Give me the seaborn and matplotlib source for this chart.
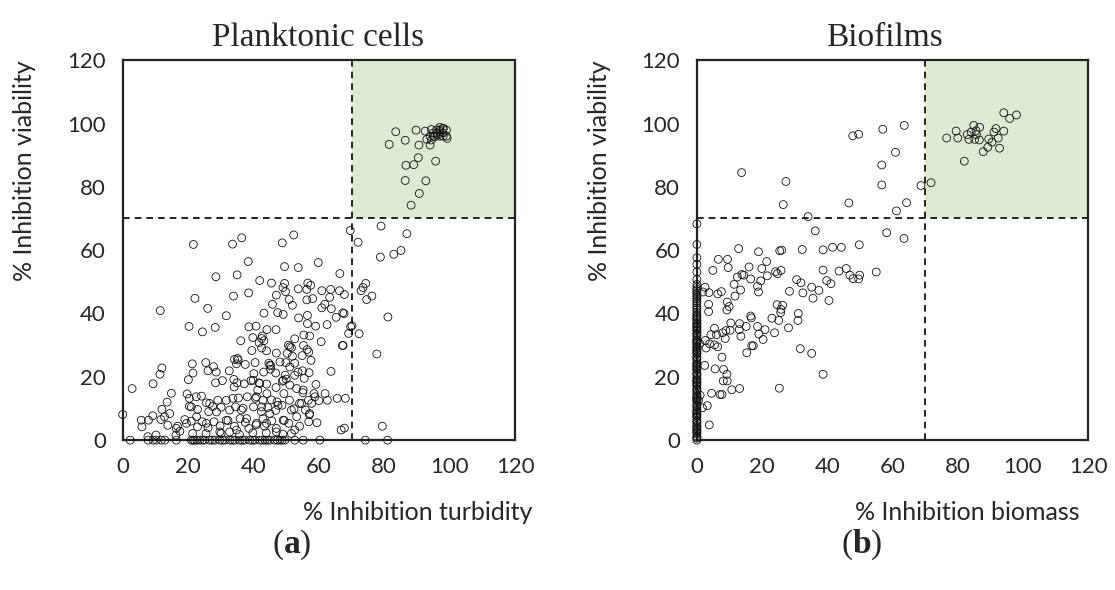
import matplotlib
matplotlib.use("Agg")
import matplotlib.pyplot as plt
import seaborn as sns
import pandas as pd

# ---- data ----
threshold = 70
ticks = [0, 20, 40, 60, 80, 100, 120]

# (a) planktonic cells: (% inhibition turbidity, % inhibition viability)
plank_green = [(83.5, 97.4), (89.7, 97.9), (92.5, 97.6), (94.4, 98.1), (97, 98.8), (98, 98.4),
               (99, 97.9), (99.2, 95.3), (96.4, 96.4), (95.4, 95.8), (94, 93.2), (94.4, 94.8),
               (81.5, 93.4), (86.4, 94.7), (90.6, 93.2), (90.4, 89.2), (89, 87), (86.6, 86.8),
               (95.7, 88.1), (86.4, 82), (92.7, 81.9), (90.7, 77.9), (88.2, 74.2),
               (96, 97), (97, 96), (98, 97), (97, 98), (95, 97), (96, 98), (98, 96), (99, 96),
               (94, 96), (93, 95), (97, 97.5), (98, 98.5), (95, 96)]
plank_right = [(79, 67.6), (86.9, 65.2), (85.1, 59.9), (82.9, 58.7), (78.8, 57.8), (69.6, 66.2),
               (72, 62.5), (74.3, 49.5), (73.5, 48.2), (72.9, 47.2), (76.2, 45.5), (74.6, 44.4),
               (81.1, 38.9), (70.1, 36.1), (69.7, 35.8), (72.3, 33.6), (69.1, 33.7), (67.4, 29.9),
               (77.7, 27.2), (79.4, 4.4), (67.8, 3.8), (66.8, 3.2), (68.1, 13.2), (65.6, 13.2),
               (67.8, 46), (67.7, 40), (66.4, 52.6), (66.3, 47.2)]
plank_cloud = [(52.3, 64.8), (48.8, 62.3), (36.4, 63.9), (33.6, 61.9), (21.6, 61.8), (59.8, 56.1),
               (53.7, 54.5), (49.5, 54.8), (38.4, 56.4), (28.5, 51.6), (35, 52.2), (41.9, 50.4),
               (45.5, 49.6), (49.5, 49.5), (49, 48.2), (49.8, 46.9), (53.7, 47.8), (56.6, 49.6),
               (57.5, 48.9), (56.3, 47.6), (60.9, 47.2), (63.6, 47.6), (47, 45.8), (50.9, 44.4),
               (51.9, 42.6), (56.3, 44.3), (58.1, 44.7), (63.3, 45.1), (61.8, 42.9), (60.9, 41.8),
               (63.8, 41.5), (38.5, 46.5), (33.9, 45.5), (22.1, 44.8), (11.5, 40.9), (26, 41.6),
               (31.7, 39.3), (43.2, 40.1), (45.8, 42.9), (47.4, 40.3), (49.1, 39.7), (53.8, 38.6),
               (56.5, 39.4), (65.3, 38.8), (67.3, 40.2), (59, 36), (62.5, 36.5), (56.5, 36.8),
               (20.3, 35.9), (24.4, 34.2), (28.3, 35.6), (38.6, 35.8), (40.8, 36), (44.1, 34.9),
               (46.9, 34.9), (55.4, 33.2), (57.2, 32.9), (52.6, 32), (36.1, 31.4), (39.8, 32.4),
               (42.7, 32.9), (43.2, 31.4), (41.7, 30.8), (60.7, 31.1), (67.2, 29.9), (50.7, 30),
               (51.6, 29.2), (55.3, 29.9), (56.4, 28.6), (56.9, 27.8), (39.5, 28.3), (42.5, 29.1),
               (44, 28.2), (47, 27.5), (50.3, 27.4), (51.9, 26.5), (54.9, 26.7), (57.6, 25.2),
               (63.7, 21.7), (34.2, 25.5), (35.1, 25.8), (34.8, 24.1), (37.5, 23.9), (40.5, 24.5),
               (44.7, 24.3), (45.3, 23.5), (48.1, 24.7), (49.9, 24.5), (52.6, 24.3), (45.2, 22.4),
               (43.1, 21.5), (40.1, 21), (32.6, 21.9), (21.3, 24.1), (25.4, 24.5), (27.8, 23.2),
               (26.1, 21.9), (28.6, 21.5), (21.5, 21.2), (12, 22.8), (11.4, 20.8), (9.3, 17.8),
               (2.9, 16.3), (20.1, 19.1), (28.4, 18.1), (30.5, 18.8), (34, 19.2), (35, 18.1),
               (34.1, 16.8), (46.8, 21.2), (48.8, 18.6), (50, 19.3), (49.7, 20.5), (52.6, 20.5),
               (53.6, 21.5), (55, 21.9), (57, 21.3), (59.1, 17.6), (55.5, 19.5), (44, 17.7),
               (41.7, 18.1), (39.2, 18.8), (37.2, 17.8), (41.3, 15.8), (44.1, 14.7), (46.9, 16.6),
               (49.3, 14.7), (51.1, 17.4), (53.2, 16.3), (55.1, 15), (58.5, 14.7), (61.9, 14.7),
               (62.6, 12.6), (14.9, 14.8), (13.6, 12), (19.7, 14.6), (20.4, 13.2), (22.5, 13.7),
               (24.1, 13.9), (25.6, 11.8), (29.1, 12.6), (31.7, 12.6), (33.7, 13.2), (35.4, 13.3),
               (38.1, 13.7), (40.6, 13.2), (42.9, 12.6), (45.5, 12.7), (47.2, 12.1), (51, 12.6),
               (54.1, 11.6), (56.8, 12.6), (57.8, 11.6), (60, 12.5), (20.4, 10.7), (22.9, 9.7),
               (26.3, 9), (27.5, 10.6), (30.1, 10.4), (32.7, 9.5), (34.5, 10.5), (36.8, 10.1),
               (40, 10.5), (42.4, 9), (44.4, 10.3), (46.8, 9.4), (48.7, 11), (52.4, 9.9),
               (55.9, 9.5), (57.1, 8), (12, 9.7), (14.4, 8.4), (9.2, 7.7), (5.7, 6.3), (0, 8.1),
               (7.9, 6.3), (5.9, 4.2), (11.7, 6.5), (12.8, 7.4), (13.8, 4.7), (16.8, 4.4),
               (17.5, 2.8), (19, 6.5), (21, 6), (22.9, 4.2), (24.3, 5.8), (26.1, 3.9), (27.9, 5.8),
               (29.8, 4.5), (32.2, 6.2), (34.2, 4.4), (35.9, 6.8), (37.5, 5.6), (38.6, 3.7),
               (40.8, 4.8), (42.9, 6.8), (43.4, 4.4), (45.6, 6.1), (47, 3.7), (49.4, 6.2),
               (50.8, 5.3), (52.6, 3.2), (54.1, 4.4), (56.9, 5.8), (59.4, 5.5), (10.2, 1.6),
               (7.7, 1.1), (16.3, 1.6), (21.4, 2.1), (25.5, 2.1), (30.1, 2.1), (32.7, 2.6),
               (35.7, 1.8), (39.8, 2.3), (43.9, 2.3), (49, 1.9), (51.6, 2.1),
               (40.9, 13.7), (42.5, 10.5), (45, 8.4), (47.5, 11), (36.3, 9.5), (37.9, 6.8),
               (31.7, 6.3), (28.7, 8.9), (25.6, 5.3), (22.6, 7.4), (19.5, 5.3), (16.4, 3.7),
               (44, 5.3), (49.1, 6.3), (51.6, 9.5), (54.7, 11.6), (57.2, 8.4), (49.1, 18.9),
               (51.1, 23.1), (45, 23.7), (42.5, 32.1), (51.1, 29.5), (39.9, 18.9), (35.3, 25.3),
               (41.9, 17.9), (40.9, 5.3), (34.8, 3.2), (29.7, 2.6), (47, 2.6), (53.2, 7.4),
               (26.6, 11.6), (21, 10.5), (55.2, 15.8), (58.8, 13.7)]
# points lying on the x axis (viability = 0)
plank_zero_x = [2.3, 7.8, 9.3, 10.3, 11.8, 12.9, 16.4, 21, 22, 23.6, 25.1, 26.6, 28.2, 29.7,
                31.2, 32.8, 34.3, 35.8, 37.3, 38.9, 40.4, 41.9, 43.5, 45, 46.5, 48.1, 49.6,
                52.6, 55.2, 60.3, 74.2, 81, 21.5, 22.7, 24.4, 27.4, 30.5, 33.6, 36.6, 39.7,
                42.7, 44.2, 47.3, 48.8]

# (b) biofilms: (% inhibition biomass, % inhibition viability)
bio_green = [(94.1, 103.4), (95.9, 101.6), (98, 102.7), (84.9, 99.4), (86.7, 98.8), (85.6, 97.7),
             (82.9, 96.5), (84.1, 97.3), (85.7, 96.5), (79.5, 97.6), (76.6, 95.4), (80, 95.4),
             (83.4, 95), (85.2, 95), (86.6, 94.8), (91.7, 98.4), (91.1, 97.3), (94.1, 97.6),
             (89.5, 95.1), (92.4, 95.4), (90.5, 94.1), (89.2, 92.5), (87.8, 91.1), (92.8, 92.2),
             (82, 88.1), (71.8, 81.3)]
bio_cloud = [(63.6, 99.4), (57, 98.2), (47.8, 96.1), (49.6, 96.6), (60.9, 90.9), (56.7, 86.9),
             (13.7, 84.5), (27.3, 81.7), (56.7, 80.6), (68.7, 80.4), (26.5, 74.4), (46.6, 74.9),
             (64.3, 75), (61.2, 72.4), (34.1, 70.6), (36.3, 66.1), (58.2, 65.5), (63.5, 63.7),
             (12.8, 60.5), (18.9, 59.5), (25.4, 59.8), (26, 60), (32.3, 60.2), (38.7, 60.1),
             (41.6, 60.9), (44.3, 60.9), (49.8, 61.7), (6.6, 57.1), (9.4, 57.1), (9.6, 54.5),
             (4.9, 53.6), (21.4, 56.4), (16, 54.7), (19.9, 54.2), (12.4, 51.5), (13.8, 52.3),
             (14.4, 52.1), (16.5, 50.9), (21.6, 51.9), (19.6, 50.3), (24.1, 53.2), (24.7, 52.6),
             (25.8, 53.6), (38.7, 53.7), (43.6, 53.4), (45.8, 54.2), (46.9, 52.1), (47.9, 51),
             (49.6, 50.9), (49.9, 52.1), (55, 53.1), (30.6, 50.7), (31.9, 49.7), (39.8, 50.4),
             (41.1, 49.4), (11.4, 49.2), (13.4, 47.4), (18.6, 48.6), (18.9, 46.8), (28.4, 47),
             (32.5, 46.5), (35.2, 48.3), (37.4, 47.3), (35.6, 44.8), (40.5, 44.1), (2.5, 48.3),
             (3.7, 46.6), (1.8, 46.8), (6.4, 46.2), (7.5, 46.9), (11.7, 45.5), (9.3, 43.6),
             (9.9, 42.2), (9.2, 41.1), (3.6, 42.9), (3.6, 40.6), (24.6, 42.8), (26.3, 42.6),
             (25.8, 41.3), (25.7, 40.3), (31.1, 40), (31, 37.8), (23, 38.5), (25.1, 37.8),
             (16.5, 39.2), (16.7, 38.6), (10.4, 37), (13.1, 36.8), (15.1, 35.9), (13, 34.9),
             (18.6, 35.9), (20.9, 34.9), (19, 33.5), (28.1, 35.5), (23.8, 33.9), (13.5, 32.8),
             (20.3, 31.8), (5.4, 35.3), (4.3, 33.3), (6, 33.3), (7.9, 33.9), (8.9, 34.6),
             (8.7, 32.1), (10.2, 34.7), (2.6, 31.5), (3.9, 30.4), (5.4, 30.1), (6.4, 29.5),
             (2.8, 29.1), (0.9, 30.5), (16.8, 29.8), (17.3, 29.8), (15.3, 27.6), (7.7, 26.2),
             (31.7, 28.9), (35.2, 27.4), (38.7, 20.8), (25.3, 16.4), (2.4, 23.6), (5.6, 22.5),
             (8.2, 22.3), (9.2, 20.8), (8.1, 18.7), (9.3, 18.7), (10.7, 15.9), (13.1, 16.3),
             (4.5, 14.8), (7.1, 14.4), (7.7, 14.4), (1, 14.2), (1.7, 10.2), (3.2, 10.9),
             (3.8, 4.8), (0.5, 12.6)]
# points lying on the y axis (biomass = 0)
bio_zero_y = [68.3, 61.8, 57.6, 55.5, 53.1, 50.8, 49.2, 48.3, 47.1, 46.4, 45.2, 44.6, 43.3,
              42.5, 41.2, 40.4, 39.6, 38.7, 37.8, 37.1, 36.2, 35.4, 34.5, 33.8, 32.9, 32.1,
              31.2, 30.4, 29.7, 28.8, 27.9, 27.1, 26.3, 25.4, 24.6, 23.7, 22.9, 22.1, 21.2,
              20.4, 19.5, 18.8, 17.9, 17.1, 16.2, 15.4, 14.6, 13.7, 12.9, 12.1, 11.2, 10.4,
              9.6, 8.7, 7.9, 7.1, 6.2, 5.4, 4.6, 3.8, 2.9, 2.1, 1.3, 0.6, 0,
              47.6, 45.8, 43.9, 41.8, 39.1, 36.7, 34.9, 33.3, 31.6, 29.2, 27.5, 25.8, 24.1,
              22.5, 20.8, 19.1, 17.5, 15.8, 14.1, 12.5, 10.8, 9.2, 7.5, 5.8, 4.2, 2.5, 0.9,
              38.2, 35.8, 30.8, 28.3, 23.3, 18.3, 13.3, 8.3, 3.3]

plank = pd.DataFrame(plank_green + plank_right + plank_cloud + [(x, 0) for x in plank_zero_x],
                     columns=["turbidity", "viability"])
bio = pd.DataFrame(bio_green + bio_cloud + [(0, y) for y in bio_zero_y],
                   columns=["biomass", "viability"])

# ---- plot ----
sns.set_style("white")
plt.rcParams["font.family"] = ["Lato", "DejaVu Sans"]
plt.rcParams["mathtext.fontset"] = "custom"
plt.rcParams["mathtext.bf"] = "Liberation Serif:bold"

fig = plt.figure(figsize=(11.15, 5.9), dpi=100)
ax1 = fig.add_axes([0.110, 0.254, 0.352, 0.644])
ax2 = fig.add_axes([0.625, 0.254, 0.351, 0.644])

panels = [
    (ax1, plank, "turbidity", "Planktonic cells", "% Inhibition turbidity", 0.753, 0.497, "(a)", 0.262),
    (ax2, bio, "biomass", "Biofilms", "% Inhibition biomass", 0.69, 0.478, "(b)", 0.773),
]

for ax, df, xcol, title, xlabel, xl_pos, t_pos, tag, tag_x in panels:
    ax.fill_between([threshold, 120], threshold, 120, color="#dcebd2", lw=0, zorder=0)
    ax.axvline(threshold, color="black", lw=1.2, ls=(0, (4, 3)), zorder=1)
    ax.axhline(threshold, color="black", lw=1.2, ls=(0, (4, 3)), zorder=1)
    sns.scatterplot(data=df, x=xcol, y="viability", ax=ax, marker="o", s=32,
                    facecolor="none", edgecolor="#111111", linewidth=0.6, zorder=3,
                    clip_on=False)
    ax.set_xlim(0, 120)
    ax.set_ylim(0, 120)
    ax.set_xticks(ticks)
    ax.set_yticks(ticks)
    ax.tick_params(length=0, labelsize=16, pad=12)
    for sp in ax.spines.values():
        sp.set_color("#222222")
        sp.set_linewidth(1.6)
    ax.set_xlabel(xlabel, fontsize=18)
    ax.xaxis.set_label_coords(xl_pos, -0.19)
    ax.xaxis.label.set_va("center")
    ax.set_ylabel("% Inhibition viability", fontsize=18)
    ax.yaxis.set_label_coords(-0.25, 0.71)
    ax.yaxis.label.set_va("center")
    ax.set_title(title, fontsize=24, family="Liberation Serif", x=t_pos, pad=10)
    fig.text(tag_x, 0.076, tag.replace(tag[1], r"$\mathbf{" + tag[1] + "}$"),
             fontsize=24, family="Liberation Serif", ha="center", va="center")

fig.savefig("out.png", dpi=100)
